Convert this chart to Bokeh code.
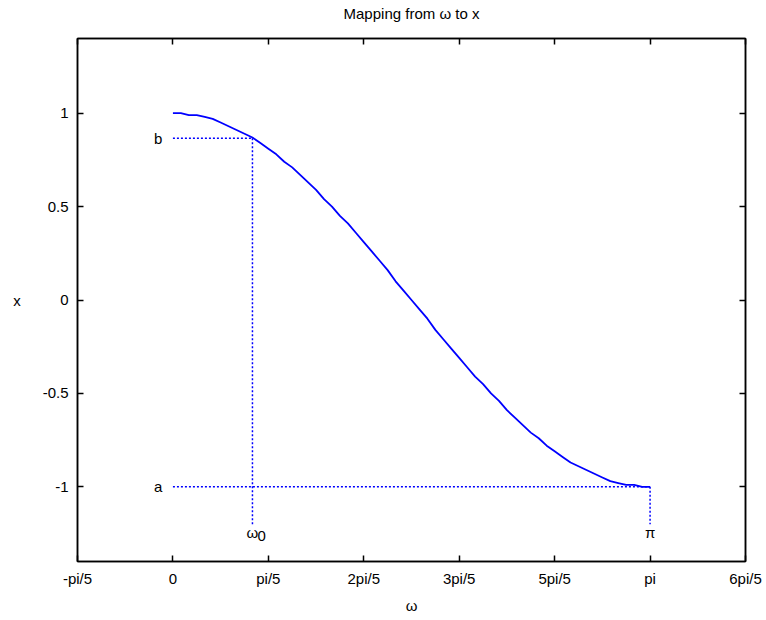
import numpy as np
from bokeh.plotting import figure
from bokeh.models import FixedTicker, CustomJSTickFormatter, LinearAxis, Range1d
from bokeh.core.properties import value
from bokeh.embed import file_html
from bokeh.resources import INLINE

# ---- data ----
# curve sampled every pi/60 in omega (sample index k -> omega = k*pi/60)
sample_index = list(range(61))
x_values = [1.00, 1.00, 0.99, 0.99, 0.98, 0.97, 0.95, 0.93, 0.91, 0.89,
            0.87, 0.84, 0.81, 0.78, 0.74, 0.71, 0.67, 0.63, 0.59, 0.54,
            0.50, 0.45, 0.41, 0.36, 0.31, 0.26, 0.21, 0.16, 0.10, 0.05,
            0.00, -0.05, -0.10, -0.16, -0.21, -0.26, -0.31, -0.36, -0.41, -0.45,
            -0.50, -0.54, -0.59, -0.63, -0.67, -0.71, -0.74, -0.78, -0.81, -0.84,
            -0.87, -0.89, -0.91, -0.93, -0.95, -0.97, -0.98, -0.99, -0.99, -1.00,
            -1.00]
x_tick_multiples = [-1, 0, 1, 2, 3, 4, 5, 6]          # multiples of pi/5
x_tick_labels = ["-pi/5", "0", "pi/5", "2pi/5", "3pi/5", "5pi/5", "pi", "6pi/5"]
y_ticks = [-1, -0.5, 0, 0.5, 1]
omega0 = np.pi / 6
b_value = 0.866
a_value = -1.0
omega_end = np.pi
guide_bottom = -1.2
title_text = "Mapping from ω to x"

omega = [k * np.pi / 60 for k in sample_index]
x_ticks = [m * np.pi / 5 for m in x_tick_multiples]

FONT = "Liberation Sans"
FS = "15px"
BLUE = "#0000ff"

p = figure(width=762, height=616,
           x_range=Range1d(-np.pi / 5, 6 * np.pi / 5),
           y_range=Range1d(-1.4, 1.4),
           output_backend="svg", toolbar_location=None,
           min_border_left=77, min_border_right=17,
           min_border_top=38, min_border_bottom=53)
p.xgrid.grid_line_color = None
p.ygrid.grid_line_color = None
p.outline_line_color = "black"
p.outline_line_width = 1.5
p.background_fill_color = "white"
p.border_fill_color = "white"

xfmt = CustomJSTickFormatter(args=dict(vals=x_ticks, labs=x_tick_labels), code="""
for (let i = 0; i < vals.length; i++) { if (Math.abs(tick - vals[i]) < 1e-6) return labs[i]; }
return '';
""")
yfmt = CustomJSTickFormatter(code="return String(Math.round(tick*100)/100);")
empty = CustomJSTickFormatter(code="return '';")


def style_axis(ax):
    ax.major_tick_in = 6
    ax.major_tick_out = 0
    ax.minor_tick_in = 0
    ax.minor_tick_out = 0
    ax.axis_line_width = 1.5
    ax.axis_line_color = "black"
    ax.major_tick_line_width = 1.5
    ax.major_tick_line_color = "black"
    ax.major_label_text_font = FONT
    ax.major_label_text_font_size = FS
    ax.major_label_text_color = "black"
    ax.axis_label_text_font = FONT
    ax.axis_label_text_font_size = FS
    ax.axis_label_text_font_style = "normal"
    ax.axis_label_text_color = "black"


xa = p.xaxis[0]
xa.ticker = FixedTicker(ticks=x_ticks)
xa.formatter = xfmt
xa.axis_label = "ω"
style_axis(xa)
xa.major_label_standoff = 8
xa.axis_label_standoff = 7

ya = p.yaxis[0]
ya.ticker = FixedTicker(ticks=y_ticks)
ya.formatter = yfmt
ya.axis_label = "x"
style_axis(ya)
ya.major_label_standoff = 9
ya.axis_label_standoff = 19
ya.axis_label_orientation = "horizontal"

# top axis: mirrored inward ticks, carries the chart title as its label
top = LinearAxis(ticker=FixedTicker(ticks=x_ticks), formatter=empty, axis_label=title_text)
style_axis(top)
top.major_label_standoff = 0
top.axis_label_standoff = 17
p.add_layout(top, "above")
right = LinearAxis(ticker=FixedTicker(ticks=y_ticks), formatter=empty)
style_axis(right)
right.major_label_standoff = 0
p.add_layout(right, "right")

# curve
p.line(omega, x_values, line_color=BLUE, line_width=1.8)

# dotted guides
dash = "2 2"
p.line([0, omega0], [b_value, b_value], line_color=BLUE, line_width=1.5, line_dash=dash)
p.line([omega0, omega0], [b_value, guide_bottom], line_color=BLUE, line_width=1.5, line_dash=dash)
p.line([0, omega_end], [a_value, a_value], line_color=BLUE, line_width=1.5, line_dash=dash)
p.line([omega_end, omega_end], [a_value, guide_bottom], line_color=BLUE, line_width=1.5, line_dash=dash)

# labels
p.text(x=[-0.07, -0.07], y=[b_value, a_value], text=["b", "a"],
       text_align="right", text_baseline="middle",
       text_font=value(FONT), text_font_size=FS, text_color="black")
p.text(x=[omega0, omega_end], y=[guide_bottom, guide_bottom], text=["ω", "π"],
       text_align="center", text_baseline="top", y_offset=0,
       text_font=value(FONT), text_font_size=FS, text_color="black")
p.text(x=[omega0], y=[guide_bottom], text=["0"],
       text_align="left", text_baseline="top", x_offset=5, y_offset=7,
       text_font=value(FONT), text_font_size=FS, text_color="black")

open("out.html", "w").write(file_html(p, INLINE))
